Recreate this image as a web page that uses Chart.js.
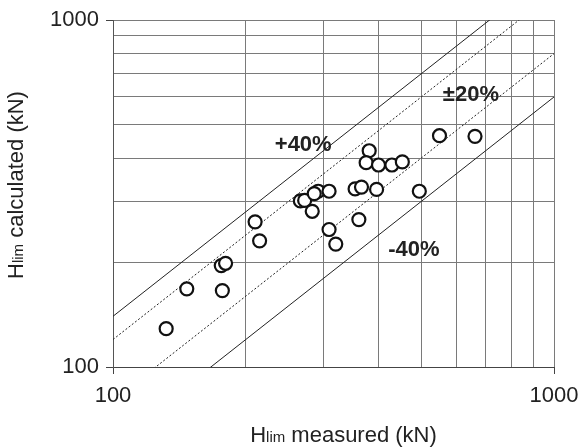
<!DOCTYPE html>
<html>
<head>
<meta charset="utf-8">
<script src="https://cdn.jsdelivr.net/npm/chart.js@4/dist/chart.umd.min.js"></script>
<style>
  html, body { margin: 0; padding: 0; background: #fff; }
  #wrap { width: 582px; height: 448px; }
</style>
</head>
<body>
<div id="wrap"><canvas id="c" width="582" height="448"></canvas></div>
<script>
// Limit load: measured vs calculated (kN)
const measured   = [132, 147, 177, 176, 180, 210, 215, 266, 272, 283, 292, 286, 309, 309, 320, 354, 366, 361, 396, 381, 375, 400, 429, 453, 495, 550, 662];
const calculated = [129, 168, 166, 196, 199, 262, 231, 301, 302, 281, 321, 316, 321, 249, 226, 326, 330, 266, 325, 420, 388, 382, 382, 390, 321, 464, 462];

// Error bands: calculated = factor x measured
const bandFactors = [1.4, 1.2, 0.8, 0.6];
const bandLabels  = ['+40%', '±20%', '-40%'];

const axisRange  = [100, 1000];
const tickLabels = [100, 1000];

const FONT = '"Liberation Sans", Arial, Helvetica, sans-serif';
const INK = '#222';
const GRID = '#7a7a7a';

const pointData = measured.map((m, i) => ({ x: m, y: calculated[i] }));

const bandDatasets = bandFactors.map(f => ({
  type: 'line',
  data: axisRange.map(v => ({ x: v, y: v * f })),
  borderColor: '#222',
  borderWidth: 1,
  borderDash: (f === 1.2 || f === 0.8) ? [2, 2] : [],
  pointRadius: 0,
  fill: false,
  tension: 0
}));

// keep only the 1-2-...-9 x 10^n grid ticks
function keepDecadeSteps(scale) {
  scale.ticks = scale.ticks.filter(t => {
    const step = Math.pow(10, Math.floor(Math.log10(t.value) + 1e-9));
    return Math.abs(t.value / step - Math.round(t.value / step)) < 1e-6;
  });
}

// Titles with the small "lim" and the band annotations
const textPlugin = {
  id: 'chartText',
  afterDraw(chart) {
    const { ctx, scales: { x, y } } = chart;
    ctx.save();
    ctx.fillStyle = INK;

    // band annotations, anchored in data space
    const anchors = [[270, 437], [648, 609], [481, 217]];
    ctx.font = 'bold 22px ' + FONT;
    ctx.textAlign = 'center';
    ctx.textBaseline = 'middle';
    bandLabels.forEach((t, i) => {
      ctx.fillText(t, x.getPixelForValue(anchors[i][0]), y.getPixelForValue(anchors[i][1]));
    });

    function drawParts(parts, cx, baseline) {
      let total = 0;
      parts.forEach(p => { ctx.font = p[1] + 'px ' + FONT; total += ctx.measureText(p[0]).width; });
      let cur = cx - total / 2;
      ctx.textAlign = 'left';
      ctx.textBaseline = 'alphabetic';
      parts.forEach(p => {
        ctx.font = p[1] + 'px ' + FONT;
        ctx.fillText(p[0], cur, baseline);
        cur += ctx.measureText(p[0]).width;
      });
    }

    drawParts([['H', 22], ['lim', 15], [' measured (kN)', 22]], 343.5, 442);

    ctx.save();
    ctx.translate(23, 185);
    ctx.rotate(-Math.PI / 2);
    drawParts([['H', 22], ['lim', 15], [' calculated (kN)', 22]], 0, 0);
    ctx.restore();

    ctx.restore();
  }
};

const tickCallback = v => tickLabels.includes(v) ? String(v) : '';

new Chart(document.getElementById('c'), {
  type: 'scatter',
  data: {
    datasets: [
      {
        type: 'scatter',
        data: pointData,
        pointRadius: 6.5,
        pointHoverRadius: 6.5,
        pointBorderWidth: 2.2,
        pointBorderColor: '#111',
        pointBackgroundColor: '#fff'
      },
      ...bandDatasets
    ]
  },
  options: {
    responsive: false,
    animation: false,
    events: [],
    layout: { padding: { top: 20, right: 28, left: 0, bottom: 0 } },
    plugins: { legend: { display: false }, tooltip: { enabled: false } },
    scales: {
      x: {
        type: 'logarithmic',
        min: axisRange[0],
        max: axisRange[1],
        afterBuildTicks: keepDecadeSteps,
        afterFit(s) { s.height = 81; s.paddingLeft = 0; s.paddingRight = 0; },
        border: { color: '#444', width: 1 },
        grid: {
          color: GRID,
          lineWidth: 1,
          tickLength: 7,
          tickColor: c => (c.tick && c.tick.major) ? '#444' : 'rgba(0,0,0,0)'
        },
        ticks: {
          callback: tickCallback,
          autoSkip: false,
          maxRotation: 0,
          padding: 9,
          color: INK,
          font: { family: FONT, size: 22 }
        }
      },
      y: {
        type: 'logarithmic',
        min: axisRange[0],
        max: axisRange[1],
        afterBuildTicks: keepDecadeSteps,
        afterFit(s) { s.width = 113; s.paddingTop = 0; s.paddingBottom = 0; },
        border: { color: '#555', width: 1 },
        grid: {
          color: GRID,
          lineWidth: 1,
          tickLength: 7,
          tickColor: c => (c.tick && c.tick.major) ? '#444' : 'rgba(0,0,0,0)'
        },
        ticks: {
          callback: tickCallback,
          autoSkip: false,
          padding: 7,
          color: INK,
          font: { family: FONT, size: 22 }
        }
      }
    }
  },
  plugins: [textPlugin]
});
</script>
</body>
</html>
